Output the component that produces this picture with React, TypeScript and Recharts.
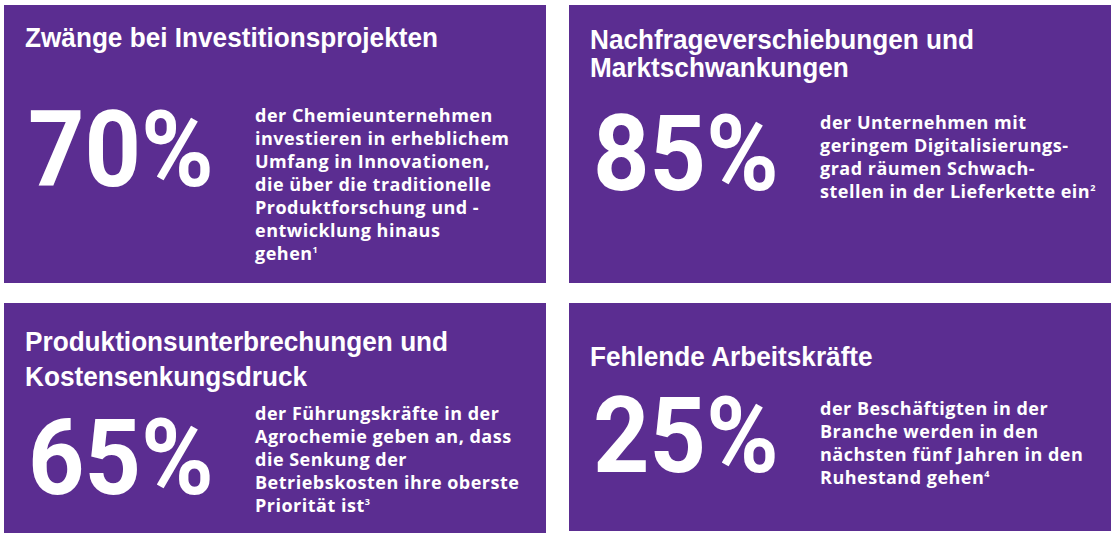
import React from 'react';
import { ScatterChart, Scatter, XAxis, YAxis } from 'recharts';

// four key figures, one panel each
const titles: string[][] = [
  ['Zwänge bei Investitionsprojekten'],
  ['Nachfrageverschiebungen und', 'Marktschwankungen'],
  ['Produktionsunterbrechungen und', 'Kostensenkungsdruck'],
  ['Fehlende Arbeitskräfte'],
];
const shares = [70, 85, 65, 25];
const descriptions: string[][] = [
  [
    'der Chemieunternehmen',
    'investieren in erheblichem',
    'Umfang in Innovationen,',
    'die über die traditionelle',
    'Produktforschung und -',
    'entwicklung hinaus',
    'gehen',
  ],
  [
    'der Unternehmen mit',
    'geringem Digitalisierungs-',
    'grad räumen Schwach-',
    'stellen in der Lieferkette ein',
  ],
  [
    'der Führungskräfte in der',
    'Agrochemie geben an, dass',
    'die Senkung der',
    'Betriebskosten ihre oberste',
    'Priorität ist',
  ],
  [
    'der Beschäftigten in der',
    'Branche werden in den',
    'nächsten fünf Jahren in den',
    'Ruhestand gehen',
  ],
];
const footnotes = ['1', '2', '3', '4'];
const gridCols = [0, 1, 0, 1];
const gridRows = [0, 0, 1, 1];

const data = shares.map((share, i) => ({
  col: gridCols[i],
  row: gridRows[i],
  share,
  title: titles[i],
  desc: descriptions[i],
  note: footnotes[i],
}));

// per-panel text offsets inside the box
const layout = [
  { h: 278, titleY: 42, titleGap: 0, numY: 181, descY: 117 },
  { h: 278, titleY: 44, titleGap: 28, numY: 185, descY: 124 },
  { h: 230, titleY: 48, titleGap: 35, numY: 191, descY: 117 },
  { h: 228, titleY: 63, titleGap: 0, numY: 169, descY: 112 },
];

const PURPLE = '#5b2d91';

const Panel = (props: any) => {
  const { cx, cy, payload, index } = props;
  const i = index ?? shares.indexOf(payload.share);
  const l = layout[i];
  const x = cx;
  const y = cy;
  return (
    <g>
      <rect x={x} y={y} width={542} height={l.h} fill={PURPLE} />
      {payload.title.map((t: string, k: number) => (
        <text
          key={k}
          transform={`translate(${x + 21}, ${y + l.titleY + k * l.titleGap}) scale(0.97, 1)`}
          fill="#fff"
          fontFamily="'Liberation Sans', Arial, sans-serif"
          fontWeight={700}
          fontSize={27}
        >
          {t}
        </text>
      ))}
      <text
        transform={`translate(${x + 24}, ${y + l.numY}) scale(0.93, 1)`}
        fill="#fff"
        fontFamily="Roboto, sans-serif"
        fontWeight={700}
        fontSize={106}
      >
        {`${payload.share}%`}
      </text>
      {payload.desc.map((line: string, k: number) => (
        <text
          key={k}
          x={x + 251}
          y={y + l.descY + k * 23}
          fill="#fff"
          fontFamily="'Open Sans', sans-serif"
          fontWeight={700}
          fontSize={18}
          letterSpacing={0.5}
        >
          {line}
          {k === payload.desc.length - 1 && (
            <tspan fontSize={9} dy={-7}>
              {payload.note}
            </tspan>
          )}
        </text>
      ))}
    </g>
  );
};

export default function App() {
  return (
    <div style={{ position: 'absolute', left: 0, top: 0, background: '#fff' }}>
      <ScatterChart
        width={1117}
        height={538}
        margin={{ top: 5, left: 4, right: -17, bottom: -63 }}
      >
        <XAxis type="number" dataKey="col" domain={[0, 2]} hide />
        <YAxis type="number" dataKey="row" domain={[0, 2]} reversed hide />
        <Scatter data={data} shape={<Panel />} isAnimationActive={false} />
      </ScatterChart>
    </div>
  );
}
